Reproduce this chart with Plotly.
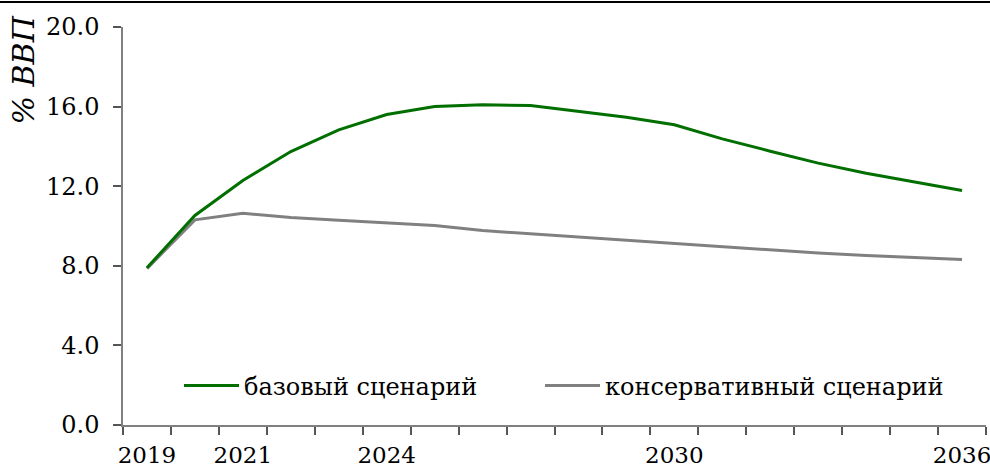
import plotly.graph_objects as go

years = [str(y) for y in range(2019, 2037)]
year_labels = ["2019", "", "2021", "", "", "2024", "", "", "", "", "", "2030", "", "", "", "", "", "2036"]
base_name = "базовый сценарий"
cons_name = "консервативный сценарий"
base = [7.90, 10.53, 12.29, 13.74, 14.83, 15.60, 16.01, 16.09, 16.06, 15.77, 15.47, 15.09,
        14.38, 13.76, 13.16, 12.65, 12.20, 11.78]
cons = [7.86, 10.31, 10.64, 10.43, 10.29, 10.16, 10.03, 9.77, 9.61, 9.42, 9.27, 9.11,
        8.94, 8.79, 8.64, 8.52, 8.41, 8.32]
y_ticks = [0, 4, 8, 12, 16, 20]
y_title = "% ВВП"

FONT = "DejaVu Serif"
GREEN = "#006f00"
GRAY = "#808080"

L, R, T, B = 123, 4, 27, 45
PW, PH = 990 - L - R, 470 - T - B
BOTTOM = 470 - B


def px_x(x):
    return (x - L) / PW


def px_y(y):
    return (BOTTOM - y) / PH


leg_common = dict(orientation="h", xanchor="left", yanchor="middle", y=px_y(386),
                  bgcolor="rgba(0,0,0,0)", font=dict(family=FONT, size=24),
                  itemwidth=55)

fig = go.Figure()
fig.add_trace(go.Scatter(x=years, y=cons, mode="lines", name=cons_name,
                         line=dict(color=GRAY, width=3), legend="legend2"))
fig.add_trace(go.Scatter(x=years, y=base, mode="lines", name=base_name,
                         line=dict(color=GREEN, width=3), legend="legend"))

fig.update_layout(
    width=990, height=470,
    margin=dict(l=L, r=R, t=T, b=B),
    paper_bgcolor="white", plot_bgcolor="white",
    font=dict(family=FONT, size=24, color="black"),
    showlegend=True,
    legend=dict(x=px_x(179), **leg_common),
    legend2=dict(x=px_x(540), **leg_common),
    xaxis=dict(type="category", categoryorder="array", categoryarray=years,
               tickmode="array", tickvals=years, ticktext=year_labels,
               tickson="boundaries", ticks="outside", ticklen=8, tickwidth=1.5,
               tickcolor="#555555", showline=True, linecolor=GRAY, linewidth=1.5,
               showgrid=False, zeroline=False, range=[-0.5, 17.5],
               tickangle=0, automargin=False, ticklabelstandoff=9,
               tickfont=dict(family=FONT, size=23)),
    yaxis=dict(range=[0, 20], tickmode="array", tickvals=y_ticks, tickformat=".1f",
               ticks="outside", ticklen=8, tickwidth=1.5, tickcolor="#555555",
               showline=True, linecolor=GRAY, linewidth=1.5, showgrid=False,
               zeroline=False, ticklabelstandoff=9, automargin=False),
    annotations=[dict(text=y_title, textangle=-90, xref="paper", yref="paper",
                      x=px_x(23), y=px_y(14),
                      xanchor="center", yanchor="top", showarrow=False,
                      font=dict(family=FONT, size=30, style="italic"))],
    shapes=[dict(type="line", xref="paper", yref="paper",
                 x0=px_x(0), x1=px_x(990), y0=px_y(2), y1=px_y(2),
                 line=dict(color="black", width=2))],
)

fig.write_html("out.html", config={"displayModeBar": False},
               post_script="document.body.style.margin='0px';")
